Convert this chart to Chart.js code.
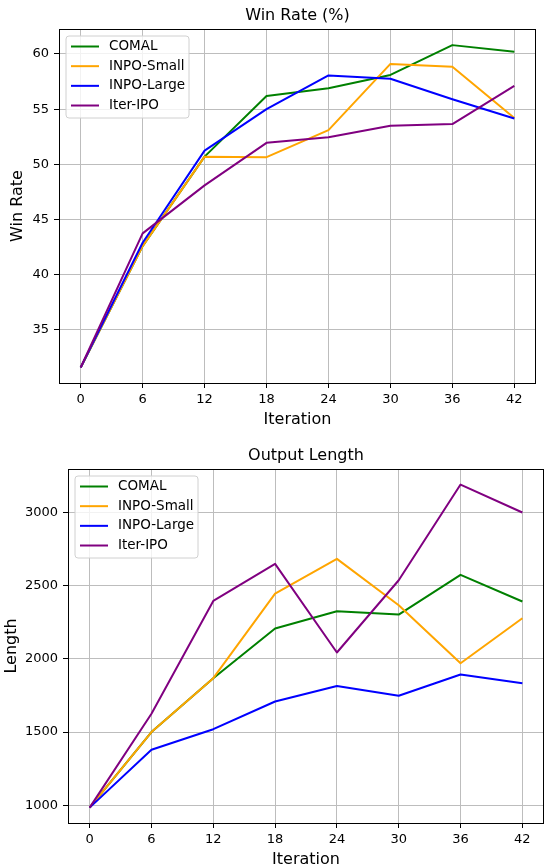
<!DOCTYPE html>
<html>
<meta charset="utf-8">
<style>
	html, body {
		width: 545px;
		height: 865px;
		margin: 0;
		padding: 0;
		overflow: hidden;
		background: #fff;
	}
	.panel { position: absolute; left: 0; width: 545px; }
	#topPanel { top: 0; height: 435px; }
	#bottomPanel { top: 435px; height: 440px; }
</style>
<script src="https://cdn.jsdelivr.net/npm/chart.js"></script>
<body>
<div class="panel" id="topPanel"><canvas id="winChart" width="545" height="435"></canvas></div>
<div class="panel" id="bottomPanel"><canvas id="lenChart" width="545" height="440"></canvas></div>
<script>

	// x axis (shared)
	var iterations = [0, 6, 12, 18, 24, 30, 36, 42];
	var methods = ["COMAL", "INPO-Small", "INPO-Large", "Iter-IPO"];
	var colors = ["#008000", "#ffa500", "#0000ff", "#800080"];

	// Win rate (%)
	var winComal     = [31.6, 42.6, 50.7, 56.2, 56.9, 58.1, 60.8, 60.2];
	var winInpoSmall = [31.6, 42.6, 50.7, 50.65, 53.1, 59.1, 58.85, 54.2];
	var winInpoLarge = [31.6, 42.9, 51.25, 55.0, 58.05, 57.75, 55.9, 54.15];
	var winIterIpo   = [31.6, 43.75, 48.1, 51.95, 52.45, 53.5, 53.65, 57.1];
	var winTicks = [35, 40, 45, 50, 55, 60];

	// Output length
	var lenComal     = [985, 1500, 1868, 2207, 2325, 2302, 2573, 2391];
	var lenInpoSmall = [985, 1500, 1868, 2445, 2682, 2366, 1970, 2277];
	var lenInpoLarge = [985, 1380, 1520, 1709, 1814, 1748, 1893, 1834];
	var lenIterIpo   = [985, 1625, 2395, 2648, 2043, 2536, 3189, 2998];
	var lenTicks = [1000, 1500, 2000, 2500, 3000];

	Chart.defaults.font.family = "'DejaVu Sans', sans-serif";
	Chart.defaults.color = "#000";

	function makeDatasets(series) {
		return series.map(function (vals, i) {
			return {
				label: methods[i],
				data: vals.map(function (v, j) { return { x: iterations[j], y: v }; }),
				borderColor: colors[i],
				backgroundColor: colors[i],
				borderWidth: 2,
				borderJoinStyle: 'round',
				pointRadius: 0,
				tension: 0,
				order: series.length - 1 - i
			};
		});
	}

	// spines + legend box drawn in the upper left of the plot
	var frameAndLegend = {
		id: 'frameAndLegend',
		afterDatasetsDraw: function (chart) {
			var ctx = chart.ctx, a = chart.chartArea;
			ctx.save();
			ctx.strokeStyle = '#000';
			ctx.lineWidth = 1;
			ctx.strokeRect(a.left + 0.5, a.top + 0.5, a.right - a.left - 1, a.bottom - a.top);

			var x0 = a.left + 7, y0 = a.top + 7, w = 123, h = 82, r = 3;
			ctx.beginPath();
			ctx.moveTo(x0 + r, y0);
			ctx.arcTo(x0 + w, y0, x0 + w, y0 + h, r);
			ctx.arcTo(x0 + w, y0 + h, x0, y0 + h, r);
			ctx.arcTo(x0, y0 + h, x0, y0, r);
			ctx.arcTo(x0, y0, x0 + w, y0, r);
			ctx.closePath();
			ctx.fillStyle = 'rgba(255,255,255,0.8)';
			ctx.fill();
			ctx.strokeStyle = '#d0d0d0';
			ctx.stroke();

			ctx.font = "13.5px 'DejaVu Sans'";
			ctx.textBaseline = 'middle';
			chart.data.datasets.forEach(function (ds, i) {
				var y = y0 + 10.5 + i * 19.67;
				ctx.beginPath();
				ctx.moveTo(x0 + 5, y);
				ctx.lineTo(x0 + 33, y);
				ctx.strokeStyle = ds.borderColor;
				ctx.lineWidth = 2;
				ctx.stroke();
				ctx.fillStyle = '#000';
				ctx.fillText(ds.label, x0 + 43, y);
			});
			ctx.restore();
		}
	};

	function makeConfig(o) {
		return {
			type: 'line',
			data: { datasets: makeDatasets(o.series) },
			plugins: [frameAndLegend],
			options: {
				responsive: false,
				animation: false,
				layout: { padding: { left: 0, right: o.padRight, top: 0, bottom: 0 } },
				plugins: {
					legend: { display: false },
					tooltip: { enabled: false },
					title: {
						display: true,
						text: o.title,
						fullSize: false,
						color: '#000',
						font: { size: 16, weight: 'normal' },
						padding: o.titlePad
					}
				},
				scales: {
					x: {
						type: 'linear',
						min: -2.1,
						max: 44.1,
						afterBuildTicks: function (s) {
							s.ticks = iterations.map(function (v) { return { value: v }; });
						},
						afterFit: function (s) { s.height = o.xHeight; },
						ticks: {
							autoSkip: false,
							maxRotation: 0,
							padding: 4,
							font: { size: 13 },
							color: '#000',
							callback: function (v) { return String(v); }
						},
						grid: { color: '#bdbdbd', lineWidth: 1, tickColor: '#000', tickLength: 5 },
						border: { display: false },
						title: {
							display: true,
							text: 'Iteration',
							color: '#000',
							font: { size: 16 },
							padding: { top: 0, bottom: 6 }
						}
					},
					y: {
						type: 'linear',
						min: o.yMin,
						max: o.yMax,
						afterBuildTicks: function (s) {
							s.ticks = o.yTicks.map(function (v) { return { value: v }; });
						},
						afterFit: function (s) { s.width = o.yWidth; },
						ticks: {
							padding: 5,
							font: { size: 13 },
							color: '#000',
							callback: function (v) { return String(v); }
						},
						grid: { color: '#bdbdbd', lineWidth: 1, tickColor: '#000', tickLength: 5 },
						border: { display: false },
						title: {
							display: true,
							text: o.yTitle,
							color: '#000',
							font: { size: 16 },
							padding: { top: o.yTitlePad, bottom: 0 }
						}
					}
				}
			}
		};
	}

	new Chart(document.getElementById('winChart'), makeConfig({
		series: [winComal, winInpoSmall, winInpoLarge, winIterIpo],
		title: 'Win Rate (%)',
		titlePad: { top: 6, bottom: 3.8 },
		yTitle: 'Win Rate',
		yTitlePad: 8,
		yMin: 30.2,
		yMax: 62.26,
		yTicks: winTicks,
		yWidth: 59,
		xHeight: 52,
		padRight: 9
	}));

	new Chart(document.getElementById('lenChart'), makeConfig({
		series: [lenComal, lenInpoSmall, lenInpoLarge, lenIterIpo],
		title: 'Output Length',
		titlePad: { top: 11.4, bottom: 3.4 },
		yTitle: 'Length',
		yTitlePad: 2.4,
		yMin: 880,
		yMax: 3295,
		yTicks: lenTicks,
		yWidth: 68,
		xHeight: 52,
		padRight: 1
	}));

</script>
</body>
</html>
